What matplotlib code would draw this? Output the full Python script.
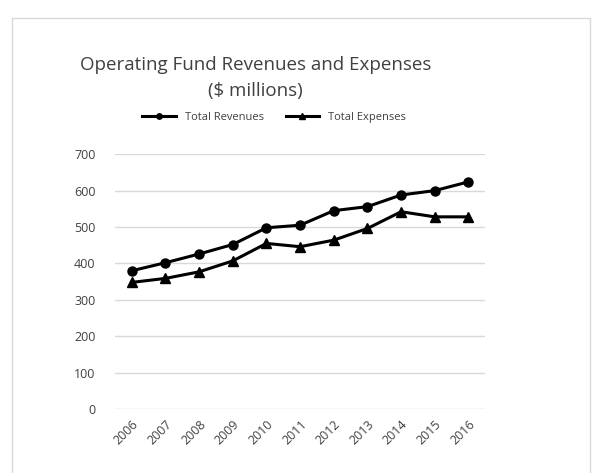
import matplotlib.pyplot as plt
from matplotlib.patches import Rectangle

# operating fund, $ millions
years = ['2006', '2007', '2008', '2009', '2010', '2011',
         '2012', '2013', '2014', '2015', '2016']
revenues = [380, 402, 426, 452, 498, 505, 545, 556, 588, 600, 624]
expenses = [348, 359, 377, 407, 455, 446, 464, 496, 542, 528, 528]

plt.rcParams['font.family'] = ['Open Sans', 'DejaVu Sans']

fig = plt.figure(figsize=(6.05, 4.73), dpi=100)

# chart frame
fig.patches.append(Rectangle((12 / 605, -0.02), 578 / 605, 1 - 18 / 473 + 0.02,
                             transform=fig.transFigure, fill=False,
                             edgecolor='#d9d9d9', linewidth=1.0))

ax = fig.add_axes([0.190, 0.135, 0.612, 0.539])
x = range(len(years))
ax.plot(x, revenues, color='black', linewidth=2.2, marker='o',
        markersize=6.5, label='Total Revenues')
ax.plot(x, expenses, color='black', linewidth=2.2, marker='^',
        markersize=6.5, label='Total Expenses')

ax.set_xlim(-0.5, len(years) - 0.5)
ax.set_ylim(0, 700)
ax.set_yticks(range(0, 701, 100))
ax.set_xticks(list(x))
ax.set_xticklabels(years, rotation=45, ha='right', rotation_mode='anchor')
ax.tick_params(axis='both', length=0, labelsize=9, colors='#404040')
ax.tick_params(axis='y', pad=14)
ax.tick_params(axis='x', pad=6)
ax.grid(axis='y', color='#d9d9d9', linewidth=1.0)
ax.set_axisbelow(True)
for s in ax.spines.values():
    s.set_visible(False)

fig.text(0.422, 0.862, 'Operating Fund Revenues and Expenses',
         ha='center', va='center', fontsize=13.5, color='#404040')
fig.text(0.422, 0.808, '($ millions)',
         ha='center', va='center', fontsize=13.5, color='#404040')

fig.legend(loc='center', bbox_to_anchor=(0.453, 0.752), ncol=2,
           frameon=False, fontsize=8, labelcolor='#404040',
           handlelength=3, columnspacing=2.0, markerscale=0.6)

fig.savefig('out.png', dpi=100)
